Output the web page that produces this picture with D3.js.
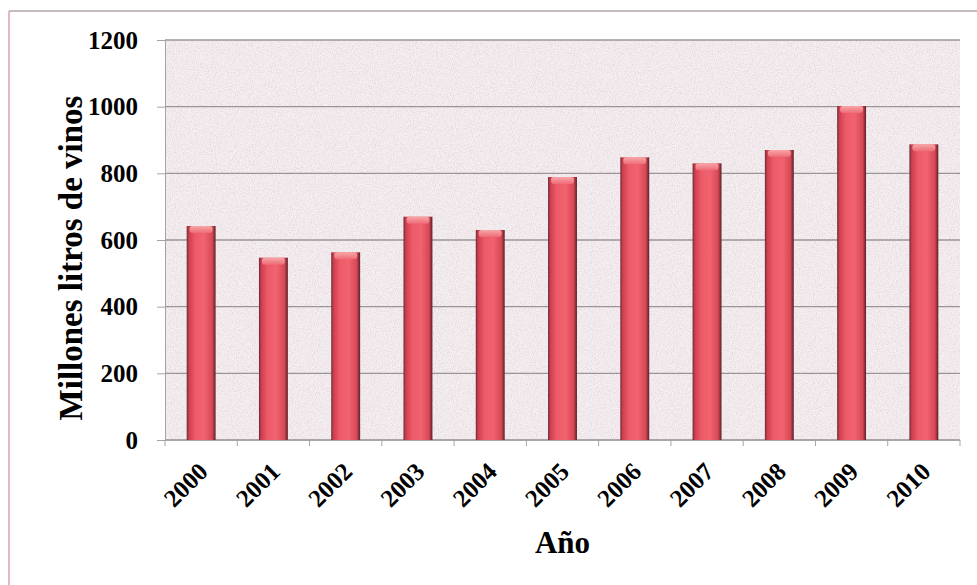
<!DOCTYPE html>
<html>
<head>
<meta charset="utf-8">
<script src="https://cdn.jsdelivr.net/npm/d3@7"></script>
<style>
  html, body { margin: 0; padding: 0; background: #fff; }
  svg { display: block; font-family: "Liberation Serif", "Times New Roman", serif; }
</style>
</head>
<body>
<svg id="chart" width="977" height="585"></svg>
<script>
const years = ['2000', '2001', '2002', '2003', '2004', '2005', '2006', '2007', '2008', '2009', '2010'];
const litros = [642, 547, 563, 670, 630, 789, 848, 830, 870, 1002, 887];
const yTicks = [0, 200, 400, 600, 800, 1000, 1200];

const svg = d3.select('#chart');
const margin = { top: 40, right: 17, bottom: 145, left: 165 };
const W = 977, H = 585;
const plotW = W - margin.left - margin.right;
const plotH = H - margin.top - margin.bottom;

// marco exterior: en la imagen solo se ven el borde superior y el izquierdo
svg.append('line')
  .attr('x1', 9).attr('x2', W).attr('y1', 11).attr('y2', 11)
  .attr('stroke', '#b3a6a9').attr('stroke-width', 1.3);
svg.append('line')
  .attr('x1', 9).attr('x2', 9).attr('y1', 11).attr('y2', H)
  .attr('stroke', '#d9a3aa').attr('stroke-width', 1.5);

const defs = svg.append('defs');
const grad = defs.append('linearGradient').attr('id', 'barGrad').attr('x1', 0).attr('x2', 1);
[[0, '#6e2a33'], [0.08, '#cc3f50'], [0.3, '#ee5a68'], [0.6, '#f0636f'], [0.88, '#d84856'], [1, '#5a2028']]
  .forEach(([o, c]) => grad.append('stop').attr('offset', o).attr('stop-color', c));
const cap = defs.append('linearGradient').attr('id', 'capGrad').attr('x1', 0).attr('x2', 0).attr('y1', 0).attr('y2', 1);
[[0, '#f7a7a8'], [1, '#ee6b76']].forEach(([o, c]) => cap.append('stop').attr('offset', o).attr('stop-color', c));

// grano del escaneo sobre el fondo del área de trazado
const noise = defs.append('filter').attr('id', 'grain').attr('x', 0).attr('y', 0).attr('width', 1).attr('height', 1);
noise.append('feTurbulence').attr('type', 'fractalNoise').attr('baseFrequency', 0.95).attr('numOctaves', 2).attr('seed', 4).attr('result', 'n');
noise.append('feColorMatrix').attr('in', 'n').attr('type', 'matrix')
  .attr('values', '0 0 0 0 0.78  0 0 0 0 0.66  0 0 0 0 0.70  0 0 0 -2.2 1.3');

const g = svg.append('g').attr('transform', `translate(${margin.left},${margin.top})`);

const x = d3.scaleBand().domain(years).range([0, plotW]).paddingInner(0.6).paddingOuter(0.3);
const y = d3.scaleLinear().domain([0, 1200]).range([plotH, 0]);

g.append('rect').attr('width', plotW).attr('height', plotH).attr('fill', '#f4eff1');
g.append('rect').attr('width', plotW).attr('height', plotH).attr('filter', 'url(#grain)');

g.append('g')
  .selectAll('line')
  .data(yTicks)
  .join('line')
  .attr('x1', 0).attr('x2', plotW)
  .attr('y1', (d) => y(d)).attr('y2', (d) => y(d))
  .attr('stroke', '#9a9698').attr('stroke-width', 1.3);

const yAxis = g.append('g')
  .call(d3.axisLeft(y).tickValues(yTicks).tickFormat(d3.format('d')).tickSize(8).tickPadding(19));
yAxis.attr('font-size', null).attr('font-family', null);
yAxis.select('.domain').attr('stroke', '#a7a3a5');
yAxis.selectAll('.tick line').attr('stroke', '#a7a3a5');
yAxis.selectAll('text')
  .attr('font-size', 25).attr('font-weight', 'bold').attr('fill', '#000');

const step = x.step();
const xAxis = g.append('g').attr('transform', `translate(0,${plotH})`);
xAxis.append('line').attr('x1', 0).attr('x2', plotW).attr('stroke', '#a7a3a5').attr('stroke-width', 1.3);
xAxis.selectAll('.tk')
  .data(d3.range(years.length + 1))
  .join('line')
  .attr('x1', (i) => i * step).attr('x2', (i) => i * step)
  .attr('y1', 0).attr('y2', 6)
  .attr('stroke', '#a7a3a5');
xAxis.selectAll('text')
  .data(years)
  .join('text')
  .attr('transform', (d) => `translate(${x(d) + x.bandwidth() / 2 + 2},${27}) rotate(-45)`)
  .attr('text-anchor', 'end')
  .attr('dy', '0.35em')
  .attr('font-size', 25).attr('font-weight', 'bold')
  .text((d) => d);

const bars = g.append('g').selectAll('g').data(years).join('g');
bars.append('rect')
  .attr('x', (d) => x(d))
  .attr('y', (d, i) => y(litros[i]))
  .attr('width', x.bandwidth())
  .attr('height', (d, i) => plotH - y(litros[i]))
  .attr('fill', 'url(#barGrad)');
bars.append('rect')
  .attr('x', (d) => x(d) + 3)
  .attr('y', (d, i) => y(litros[i]))
  .attr('width', x.bandwidth() - 6)
  .attr('height', 7)
  .attr('rx', 3)
  .attr('fill', 'url(#capGrad)');

svg.append('text')
  .attr('transform', `translate(70,258) rotate(-90)`)
  .attr('text-anchor', 'middle')
  .attr('dy', '0.35em')
  .attr('font-size', 33).attr('font-weight', 'bold')
  .text('Millones litros de vinos');

svg.append('text')
  .attr('x', margin.left + plotW / 2)
  .attr('y', 553)
  .attr('text-anchor', 'middle')
  .attr('font-size', 31).attr('font-weight', 'bold')
  .text('Año');
</script>
</body>
</html>
